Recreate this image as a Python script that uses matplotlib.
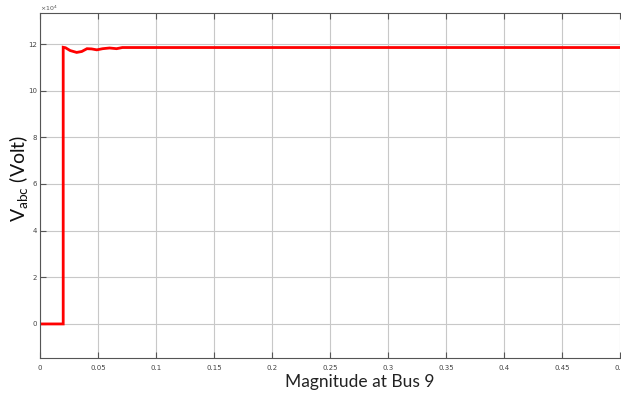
import matplotlib
matplotlib.use("Agg")
import matplotlib.pyplot as plt

# Data (time in s, voltage in 1e4 V)
t = [0.0, 0.02, 0.02, 0.022, 0.026, 0.0316, 0.036, 0.0405, 0.0445, 0.049, 0.054, 0.06, 0.066, 0.071, 0.08, 0.5]
v = [0.0, 0.0, 11.86, 11.84, 11.72, 11.64, 11.68, 11.80, 11.79, 11.75, 11.80, 11.83, 11.80, 11.85, 11.85, 11.85]

xticks = [0, 0.05, 0.1, 0.15, 0.2, 0.25, 0.3, 0.35, 0.4, 0.45, 0.5]
xticklabels = ["0", "0.05", "0.1", "0.15", "0.2", "0.25", "0.3", "0.35", "0.4", "0.45", "0.5"]
yticks = [0, 2, 4, 6, 8, 10, 12]
yticklabels = ["0", "2", "4", "6", "8", "10", "12"]

fig = plt.figure(figsize=(6.21, 3.94), dpi=100)
ax = fig.add_axes([40/621, 36/394, 580/621, 345/394])
ax.plot(t, v, color="#ff0000", lw=2.0, solid_joinstyle="miter")
ax.set_xlim(0, 0.5)
ax.set_ylim(-1.46, 13.33)
ax.set_xticks(xticks)
ax.set_xticklabels(xticklabels)
ax.set_yticks(yticks)
ax.set_yticklabels(yticklabels)
ax.grid(True, color="#c8c8c8", lw=0.8)
ax.tick_params(direction="in", length=4, width=0.8, colors="#555555", labelsize=5,
               top=True, right=False)
ax.tick_params(axis="y", pad=2)
ax.tick_params(axis="x", pad=5)
for s in ax.spines.values():
    s.set_color("#555555")
    s.set_linewidth(0.8)
ax.spines["right"].set_visible(False)
for lab in ax.get_xticklabels() + ax.get_yticklabels():
    lab.set_color("#444444")

fig.text(40/621, 1 - 8/394, r"$\times10^{4}$", fontsize=4.5, color="#555555", va="center", ha="left")
fig.text(360/621, 1 - 382/394, "Magnitude at Bus 9", fontsize=12.5, color="#222222",
         ha="center", va="center", family="Lato")
fig.text(19/621, 1 - 178/394, r"$\mathregular{V_{abc}}$ (Volt)", fontsize=14, color="#111111",
         ha="center", va="center", rotation=90, family="Lato")

fig.savefig("out.png", dpi=100)
